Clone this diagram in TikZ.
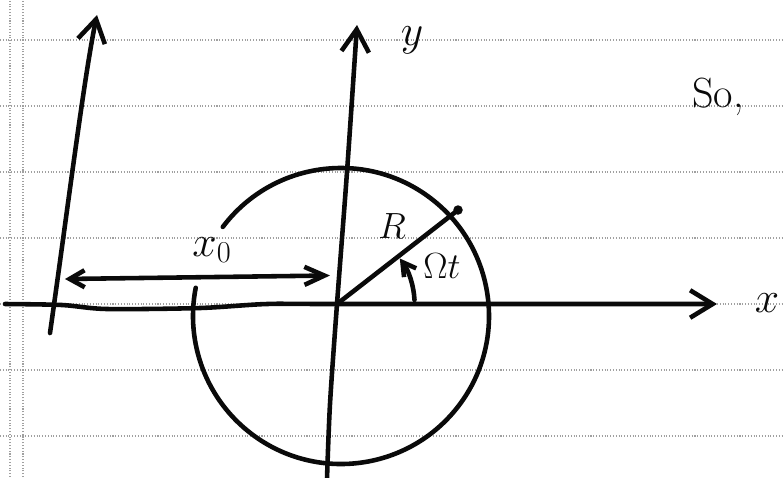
\documentclass[tikz,border=0pt]{standalone}
\usepackage{amsmath,amssymb}
\usepackage{tikz}
\usetikzlibrary{arrows.meta,positioning,calc}
\definecolor{paperline}{RGB}{160,160,160}
\definecolor{ink}{RGB}{10,10,10}

\begin{document}
\begin{tikzpicture}[
    rule/.style={paperline, line width=0.6pt, densely dotted},
    pen/.style={ink, line width=2.6pt, line cap=round, line join=round},
    axisarr/.style={pen, -{Straight Barb[length=4.5mm, width=5.5mm]}},
    dimarr/.style={pen, {Straight Barb[length=3mm, width=3.4mm]}-{Straight Barb[length=4mm, width=3.6mm]}},
    angarr/.style={pen, -{Straight Barb[length=2.6mm, width=3mm]}},
    hand/.style={ink, inner sep=0pt}
]
    \path[fill=white, use as bounding box] (-6.74,-3.46) rectangle (8.94,6.08);

    \foreach \k in {-2,...,4}
        \draw[rule] (-6.74,\k*1.32) -- (8.94,\k*1.32);
    \draw[rule] (-6.54,-3.46) -- (-6.54,6.08);
    \draw[rule] (-6.28,-3.46) -- (-6.28,6.08);

    \coordinate (O)   at (0,0);
    \coordinate (C)   at (0.08,-0.24);
    \coordinate (P)   at (2.42,1.88);
    \coordinate (Ub)  at (-5.74,-0.58);
    \coordinate (Ut)  at (-4.8,5.78);
    \coordinate (Dl)  at (-5.44,0.5);
    \coordinate (Dr)  at (-0.14,0.57);

    \draw[axisarr] plot[smooth, tension=0.5] coordinates
        {(-6.64,0) (-5.5,-0.02) (-4.6,-0.1) (-2.74,-0.08) (-1.4,0) (0,0) (7.6,0)};
    \draw[axisarr] plot[smooth, tension=0.5] coordinates
        {(-0.2,-3.5) (-0.14,-2.0) (0,0) (0.2,2.64) (0.4,5.58)};
    \draw[axisarr] (Ub) .. controls (-5.4,1.8) and (-5.05,4.6) .. (Ut);

    \draw[pen] (C) ++(143:2.96) arc[start angle=143, end angle=-191, radius=2.96];

    \draw[pen] (O) -- (P);
    \fill[ink] (P) circle (0.095);
    \draw[angarr] (1.55,0.08) arc[start angle=3, end angle=36, radius=1.55];
    \draw[dimarr] (Dl) -- (Dr);

    \node[hand, font=\fontsize{38}{42}\selectfont] (ylab) at (1.5,5.28) {$y$};
    \node[hand, font=\fontsize{28}{32}\selectfont] (xlab) at (8.6,0.02) {$x$};
    \node[hand, font=\fontsize{24}{28}\selectfont] (so) at (7.62,4.14) {So,};
    \node[hand, font=\fontsize{22}{26}\selectfont] (rlab) at (1.1,1.56) {$R$};
    \node[hand, font=\fontsize{21}{24}\selectfont] (wlab) at (2.1,0.76) {$\Omega t$};
    \node[hand, font=\fontsize{25}{28}\selectfont] (xolab) at (-2.5,1.08) {$x_0$};
\end{tikzpicture}
\end{document}
